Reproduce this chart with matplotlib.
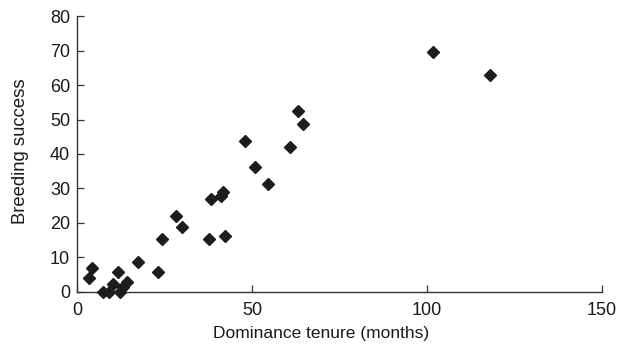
import matplotlib
matplotlib.use("Agg")
import matplotlib.pyplot as plt

plt.rcParams["font.family"] = ["Liberation Sans", "DejaVu Sans"]

# dominance tenure (months) and breeding success
tenure = [3.3, 4.3, 7.5, 9.0, 10.4, 11.6, 12.4, 13.0, 14.4, 17.3, 23.0,
          24.4, 28.2, 30.1, 37.7, 38.2, 41.1, 41.7, 42.2, 47.9, 50.8,
          54.7, 60.9, 63.0, 64.6, 101.6, 118.0]
success = [4.0, 7.0, 0.1, 0.0, 2.2, 5.9, 0.0, 1.5, 3.0, 8.8, 5.9,
           15.2, 22.0, 18.9, 15.3, 26.9, 27.8, 29.1, 16.2, 43.9, 36.1,
           31.3, 41.9, 52.5, 48.7, 69.7, 62.9]

x_ticks = [0, 50, 100, 150]
y_ticks = [0, 10, 20, 30, 40, 50, 60, 70, 80]

fig = plt.figure(figsize=(6.2, 3.5), dpi=100)
ax = fig.add_axes([0.1242, 0.166, 0.8468, 0.788])

ax.plot(tenure, success, linestyle="none", marker="D", ms=6.2,
        color="#1c1c1c", clip_on=False, zorder=3)

ax.set_xlim(0, 150)
ax.set_ylim(0, 80)
ax.set_xticks(x_ticks)
ax.set_yticks(y_ticks)
ax.tick_params(direction="in", length=5, width=0.9, labelsize=13,
               colors="#333333", labelcolor="#1a1a1a")
ax.tick_params(axis="x", pad=7)
ax.tick_params(axis="y", pad=5)
for side in ("top", "right"):
    ax.spines[side].set_visible(False)
for side in ("left", "bottom"):
    ax.spines[side].set_linewidth(1.0)
    ax.spines[side].set_color("#333333")

ax.set_xlabel("Dominance tenure (months)", fontsize=12.5, color="#1a1a1a")
ax.set_ylabel("Breeding success", fontsize=13.3, color="#1a1a1a")
ax.xaxis.set_label_coords(0.464, -0.125)
ax.yaxis.set_label_coords(-0.092, 0.51)

fig.savefig("out.png", dpi=100)
